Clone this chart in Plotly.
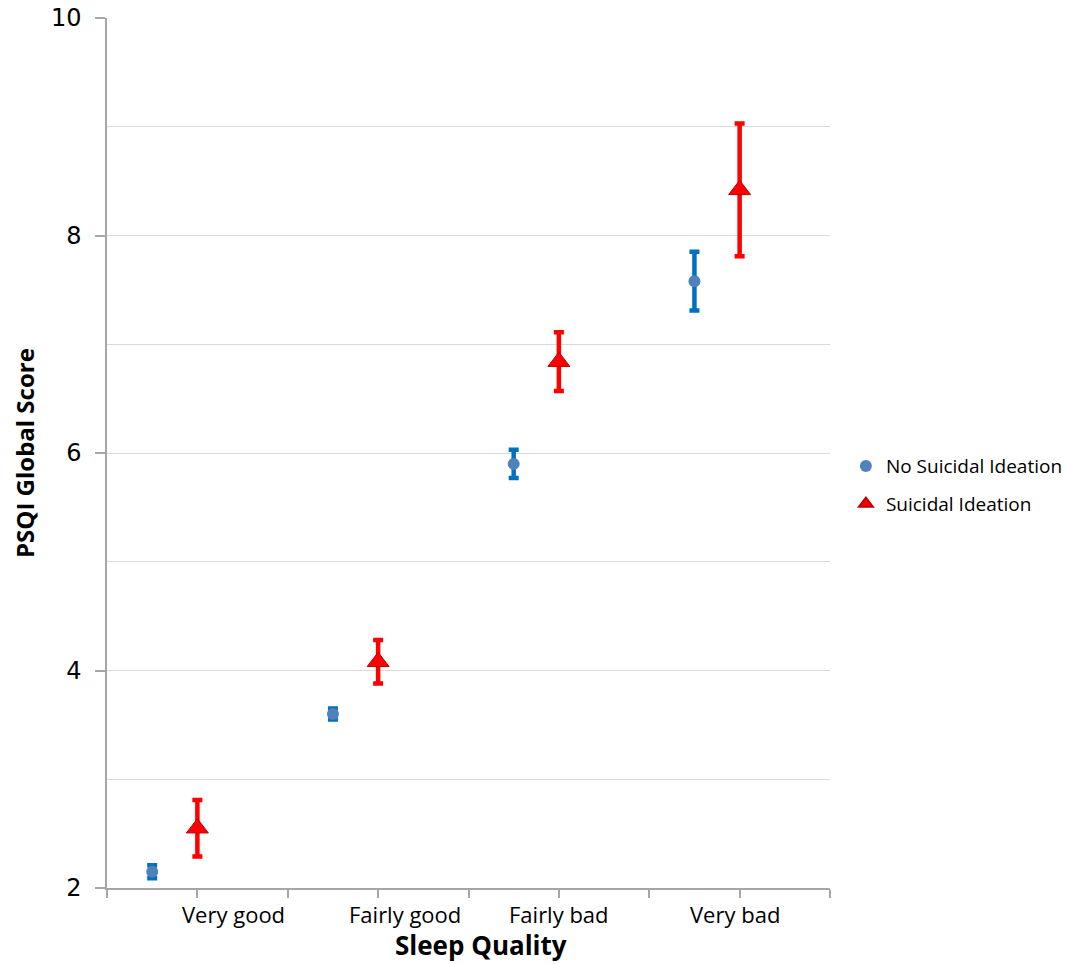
import plotly.graph_objects as go

categories = ["Very good", "Fairly good", "Fairly bad", "Very bad"]
no_si_mean = [2.15, 3.60, 5.90, 7.58]
no_si_err = [0.06, 0.05, 0.13, 0.27]
si_mean = [2.55, 4.08, 6.84, 8.42]
si_err = [0.26, 0.20, 0.27, 0.61]

# x positions on a numeric 0..8 axis (two units per category)
blue_x = [2 * i + 0.5 for i in range(len(categories))]
red_x = [2 * i + 1 for i in range(len(categories))]
label_x = [1.4, 3.3, 5.0, 6.95]

fig = go.Figure()
fig.add_trace(go.Scatter(
    x=blue_x, y=no_si_mean, mode="markers", name="No Suicidal Ideation",
    legendgroup="a",
    marker=dict(symbol="circle", size=12, color="#4F81BD"),
    error_y=dict(type="data", array=no_si_err, color="#0070C0", thickness=4.5, width=5),
))
fig.add_trace(go.Scatter(
    x=red_x, y=si_mean, mode="markers", name="Suicidal Ideation",
    legendgroup="b",
    marker=dict(symbol="triangle-up", size=19, color="#FF0000",
                line=dict(color="#C00000", width=1)),
    error_y=dict(type="data", array=si_err, color="#FF0000", thickness=4.5, width=5),
))

for lx, lab in zip(label_x, categories):
    fig.add_annotation(x=lx, y=0, xref="x", yref="paper", text=lab, showarrow=False,
                       yanchor="top", yshift=-9,
                       font=dict(family="Open Sans", size=22, color="#000000"))

fig.add_annotation(x=0.5, y=0, xref="paper", yref="paper", text="<b>Sleep Quality</b>",
                   showarrow=False, yanchor="top", yshift=-37, xshift=12,
                   font=dict(family="Open Sans", size=26, color="#000000"))

fig.add_annotation(x=0, y=0.5, xref="paper", yref="paper", text="<b>PSQI Global Score</b>",
                   showarrow=False, textangle=-90, xanchor="center", yanchor="middle",
                   xshift=-83,
                   font=dict(family="Open Sans", size=24, color="#000000"))

fig.update_layout(
    width=1068, height=964,
    margin=dict(l=107, r=238, t=18, b=76, autoexpand=False),
    plot_bgcolor="white", paper_bgcolor="white",
    showlegend=True,
    legend=dict(x=1.022, y=0.463, xanchor="left", yanchor="middle",
                font=dict(family="Open Sans", size=19, color="#000000"),
                tracegroupgap=10, itemsizing="constant"),
    xaxis=dict(range=[0, 8], tickvals=list(range(9)), showticklabels=False,
               ticks="outside", ticklen=8, tickcolor="#A6A6A6", tickwidth=1.5,
               showline=True, linecolor="#A6A6A6", linewidth=1.5,
               showgrid=False, zeroline=False, automargin=False),
    yaxis=dict(range=[2, 10], tickvals=[2, 4, 6, 8, 10],
               ticks="outside", ticklen=10, tickcolor="#A6A6A6", tickwidth=1.5,
               showline=True, linecolor="#A6A6A6", linewidth=1.5,
               showgrid=True, gridcolor="#D9D9D9", gridwidth=1, zeroline=False,
               automargin=False, ticklabelstandoff=9, ticklabeloverflow="allow",
               minor=dict(dtick=1, showgrid=True, gridcolor="#D9D9D9", ticks=""),
               tickfont=dict(family="DejaVu Sans", size=24, color="#000000")),
)

fig.write_html("out.html", config={"displayModeBar": False},
               post_script="document.body.style.margin='0';")
